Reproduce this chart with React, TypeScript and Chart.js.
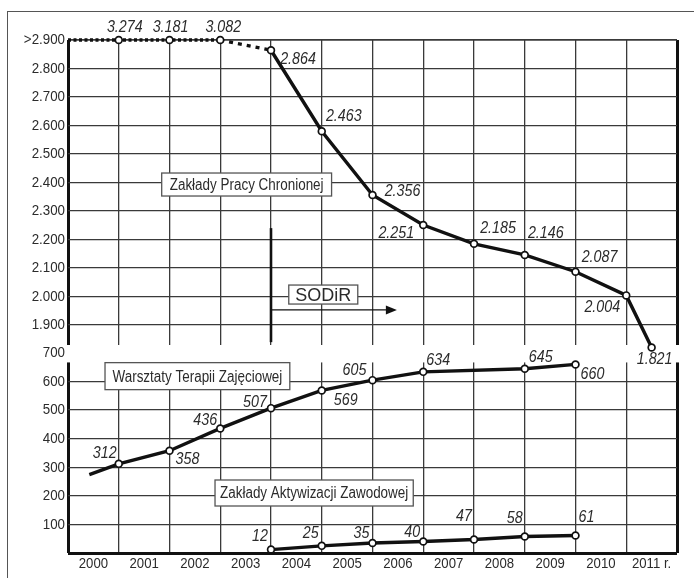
import React, { useEffect, useRef } from 'react';
import { Chart, registerables } from 'chart.js';

Chart.register(...registerables);

const SANS = "'Liberation Sans', Arial, sans-serif";
const INK = '#111';
const TEXT = '#2b2b2b';
const GRID = '#3a3a3a';
const CONDENSE = 0.84; // horizontal squeeze that imitates the narrow face of the original

// ---- categories / ticks ----
const yearLabels = ['2000', '2001', '2002', '2003', '2004', '2005', '2006', '2007', '2008', '2009', '2010', '2011 r.'];
const topTickValues = [1.9, 2.0, 2.1, 2.2, 2.3, 2.4, 2.5, 2.6, 2.7, 2.8, 2.9];
const topTickLabels = ['1.900', '2.000', '2.100', '2.200', '2.300', '2.400', '2.500', '2.600', '2.700', '2.800', '>2.900'];
const bottomTickValues = [0, 100, 200, 300, 400, 500, 600, 700];
const bottomTickLabels = ['', '100', '200', '300', '400', '500', '600', '700'];

// ---- Zakłady Pracy Chronionej (upper panel, thousands) ----
const zpchX = [0, 1, 2, 3, 4, 5, 6, 7, 8, 9, 10, 11, 11.5];
const zpchValues = [2.9, 3.274, 3.181, 3.082, 2.864, 2.58, 2.356, 2.251, 2.185, 2.146, 2.087, 2.004, 1.821];
const zpchLabels = ['', '3.274', '3.181', '3.082', '2.864', '2.463', '2.356', '2.251', '2.185', '2.146', '2.087', '2.004', '1.821'];
const zpchLabelOffsets = [[0, 0], [6, -13], [1, -13], [3, -13], [27, 9], [22, -15], [30, -4], [-27, 8], [24, -16], [21, -22], [24, -14], [-24, 12], [3, 12]];

// ---- Warsztaty Terapii Zajęciowej (lower panel) ----
const wtzX = [0.42, 1, 2, 3, 4, 5, 6, 7, 9, 10];
const wtzValues = [274, 312, 358, 436, 507, 569, 605, 634, 645, 660];
const wtzLabels = ['', '312', '358', '436', '507', '569', '605', '634', '645', '660'];
const wtzLabelOffsets = [[0, 0], [-14, -11], [18, 9], [-15, -8], [-16, -6], [24, 10], [-18, -10], [15, -12], [16, -11], [17, 10]];

// ---- Zakłady Aktywizacji Zawodowej (lower panel) ----
const zazX = [4, 5, 6, 7, 8, 9, 10];
const zazValues = [12, 25, 35, 40, 47, 58, 61];
const zazLabels = ['12', '25', '35', '40', '47', '58', '61'];
const zazLabelOffsets = [[-11, -13], [-11, -13], [-11, -10], [-11, -9], [-10, -23], [-10, -18], [11, -18]];

// ---- scale ranges (upper panel, spacer, lower panel stacked on the left) ----
const TOP_CAP = 2.9;
const TOP_MIN = 1.83;
const BOTTOM_MAX = 700;
const GAP_BOTTOM_VALUE = 667; // lower panel's grid starts here
const STACK_WEIGHTS = { top: 305, gap: 8, bottom: 200 };

// ---- annotations (data coordinates) ----
const annotationBoxes = [
  { text: 'Zakłady Pracy Chronionej', x: 3.52, y: 2.393, axis: 'yTop', size: 16, squeeze: CONDENSE, padX: 8, padY: 3.5 },
  { text: 'Warsztaty Terapii Zajęciowej', x: 2.55, y: 619, axis: 'yBot', size: 16, squeeze: CONDENSE, padX: 7.5, padY: 5.5 },
  { text: 'Zakłady Aktywizacji Zawodowej', x: 4.85, y: 210, axis: 'yBot', size: 16, squeeze: CONDENSE, padX: 5, padY: 5 },
  { text: 'SODiR', x: 5.03, y: 2.007, axis: 'yTop', size: 18, squeeze: 1, padX: 6.5, padY: 0.5 },
];
const sodirLine = { x: 4, yFrom: 2.24, yTo: 1.84 };
const sodirArrow = { xFrom: 4, xTo: 6.48, y: 1.953 };

const labelSets = [
  { labels: zpchLabels, offsets: zpchLabelOffsets },
  { labels: wtzLabels, offsets: wtzLabelOffsets },
  { labels: zazLabels, offsets: zazLabelOffsets },
];

function squeezedText(ctx: CanvasRenderingContext2D, text: string, cx: number, cy: number, sx: number) {
  ctx.save();
  ctx.translate(cx, cy);
  ctx.scale(sx, 1);
  ctx.fillText(text, 0, 0);
  ctx.restore();
}

// draw a scale's own tick labels with a horizontal squeeze, keeping their anchors
function squeezeScaleLabels(s: any, sx: number) {
  if (s.__squeezed) return;
  s.__squeezed = true;
  const orig = s.drawLabels;
  s.drawLabels = function (area: any) {
    const ctx = this.ctx;
    const items = this.getLabelItems(area);
    const saved = items.map((it: any) => it.options.translation);
    items.forEach((it: any) => {
      const [tx, ty] = it.options.translation;
      it.options.translation = [tx / sx, ty];
    });
    const origArea = this._computeLabelArea;
    this._computeLabelArea = () => undefined;
    ctx.save();
    ctx.scale(sx, 1);
    orig.call(this, area);
    ctx.restore();
    this._computeLabelArea = origArea;
    items.forEach((it: any, i: number) => {
      it.options.translation = saved[i];
    });
  };
}

const panelPlugin = {
  id: 'panels',
  beforeDatasetsDraw(chart: any) {
    const { ctx, chartArea, scales } = chart;
    const x = scales.x;
    const yTop = scales.yTop;
    const yBot = scales.yBot;
    ctx.save();
    // gap between the panels
    const g0 = yTop.getPixelForValue(yTop.min);
    const g1 = yBot.getPixelForValue(GAP_BOTTOM_VALUE);
    ctx.fillStyle = '#fff';
    ctx.fillRect(chartArea.left - 2, g0, chartArea.right - chartArea.left + 4, g1 - g0);

    // SODiR vertical line and arrow
    ctx.strokeStyle = INK;
    ctx.lineWidth = 2.6;
    ctx.beginPath();
    ctx.moveTo(x.getPixelForValue(sodirLine.x), yTop.getPixelForValue(sodirLine.yFrom));
    ctx.lineTo(x.getPixelForValue(sodirLine.x), yTop.getPixelForValue(sodirLine.yTo));
    ctx.stroke();
    const ay = yTop.getPixelForValue(sodirArrow.y);
    const ax0 = x.getPixelForValue(sodirArrow.xFrom);
    const ax1 = x.getPixelForValue(sodirArrow.xTo);
    ctx.lineWidth = 1.3;
    ctx.beginPath();
    ctx.moveTo(ax0, ay);
    ctx.lineTo(ax1 - 8, ay);
    ctx.stroke();
    ctx.fillStyle = INK;
    ctx.beginPath();
    ctx.moveTo(ax1, ay);
    ctx.lineTo(ax1 - 11, ay - 4.5);
    ctx.lineTo(ax1 - 11, ay + 4.5);
    ctx.closePath();
    ctx.fill();

    // label boxes
    annotationBoxes.forEach((b) => {
      ctx.font = `${b.size}px ${SANS}`;
      const w = ctx.measureText(b.text).width * b.squeeze + 2 * b.padX;
      const h = b.size + 2 * b.padY;
      const cx = x.getPixelForValue(b.x);
      const cy = scales[b.axis].getPixelForValue(b.y);
      ctx.fillStyle = '#fff';
      ctx.fillRect(cx - w / 2, cy - h / 2, w, h);
      ctx.strokeStyle = '#555';
      ctx.lineWidth = 1.3;
      ctx.strokeRect(cx - w / 2, cy - h / 2, w, h);
      ctx.fillStyle = TEXT;
      ctx.textAlign = 'center';
      ctx.textBaseline = 'middle';
      squeezedText(ctx, b.text, cx, cy + 1, b.squeeze);
    });
    ctx.restore();
  },
  afterDatasetsDraw(chart: any) {
    const { ctx } = chart;
    ctx.save();
    ctx.font = `italic 17px ${SANS}`;
    ctx.fillStyle = TEXT;
    ctx.textAlign = 'center';
    ctx.textBaseline = 'middle';
    labelSets.forEach((set, i) => {
      const meta = chart.getDatasetMeta(i);
      meta.data.forEach((pt: any, j: number) => {
        const t = set.labels[j];
        if (!t) return;
        squeezedText(ctx, t, pt.x + set.offsets[j][0], pt.y + set.offsets[j][1], CONDENSE);
      });
    });
    ctx.restore();
  },
};

const pointStyle = {
  pointBackgroundColor: '#fff',
  pointBorderColor: INK,
  pointBorderWidth: 1.7,
  borderColor: INK,
  borderWidth: 3.4,
  tension: 0,
  fill: false,
  clip: false,
};

const tickFont = { family: SANS, size: 15.5 };

export default function App() {
  const ref = useRef<HTMLCanvasElement>(null);

  useEffect(() => {
    if (!ref.current) return;
    const xTicks: number[] = [];
    for (let i = 0; i <= yearLabels.length * 2; i++) xTicks.push(i / 2);

    const chart = new Chart(ref.current, {
      type: 'line',
      data: {
        datasets: [
          {
            ...pointStyle,
            data: zpchX.map((xv, i) => ({ x: xv, y: Math.min(zpchValues[i], TOP_CAP) })),
            yAxisID: 'yTop',
            pointRadius: (c: any) => (c.dataIndex === 0 ? 0 : 3.4),
            segment: {
              borderDash: (c: any) => (c.p1DataIndex <= 3 ? [3, 2.5] : c.p1DataIndex === 4 ? [4, 5] : undefined),
              borderWidth: (c: any) => (c.p1DataIndex <= 4 ? 3.3 : 3.4),
            },
          } as any,
          {
            ...pointStyle,
            data: wtzX.map((xv, i) => ({ x: xv, y: wtzValues[i] })),
            yAxisID: 'yBot',
            pointRadius: (c: any) => (c.dataIndex === 0 ? 0 : 3.4),
          } as any,
          {
            ...pointStyle,
            data: zazX.map((xv, i) => ({ x: xv, y: zazValues[i] })),
            yAxisID: 'yBot',
            pointRadius: 3.4,
          } as any,
        ],
      },
      options: {
        responsive: false,
        maintainAspectRatio: false,
        animation: false,
        events: [],
        devicePixelRatio: 1,
        layout: { padding: { top: 40, right: 17, bottom: 0, left: 0 } },
        plugins: { legend: { display: false }, tooltip: { enabled: false } },
        scales: {
          x: {
            type: 'linear',
            position: 'bottom',
            min: 0,
            max: yearLabels.length,
            afterBuildTicks: (s: any) => {
              s.ticks = xTicks.map((v) => ({ value: v }));
            },
            afterFit: (s: any) => {
              s.height = 25;
              squeezeScaleLabels(s, 0.85);
            },
            ticks: {
              autoSkip: false,
              maxRotation: 0,
              padding: 1,
              color: TEXT,
              font: { family: SANS, size: 15.5 },
              callback: (v: any) => {
                const n = Number(v);
                return Number.isInteger(n) ? '' : yearLabels[Math.floor(n)];
              },
            },
            grid: {
              drawTicks: false,
              color: (c: any) => (c.tick && Number.isInteger(c.tick.value) ? (c.tick.value === 0 || c.tick.value === yearLabels.length ? INK : GRID) : 'rgba(0,0,0,0)'),
              lineWidth: (c: any) => (c.tick && (c.tick.value === 0 || c.tick.value === yearLabels.length) ? 3 : 1.3),
            },
            border: { display: false },
          },
          yTop: {
            type: 'linear',
            position: 'left',
            stack: 'panels',
            stackWeight: STACK_WEIGHTS.top,
            weight: 3,
            min: TOP_MIN,
            max: TOP_CAP,
            afterBuildTicks: (s: any) => {
              s.ticks = topTickValues.map((v) => ({ value: v }));
            },
            afterFit: (s: any) => {
              s.width = 68;
              squeezeScaleLabels(s, 0.86);
            },
            ticks: {
              autoSkip: false,
              padding: 3,
              color: TEXT,
              font: tickFont,
              callback: (v: any, i: number) => topTickLabels[i],
            },
            grid: {
              drawTicks: false,
              color: GRID,
              lineWidth: (c: any) => (c.tick && c.tick.value === TOP_CAP ? 1.7 : 1.3),
            },
            border: { display: false },
          },
          yGap: {
            type: 'linear',
            position: 'left',
            stack: 'panels',
            stackWeight: STACK_WEIGHTS.gap,
            weight: 2,
            min: 0,
            max: 1,
            afterFit: (s: any) => {
              s.width = 0;
            },
            ticks: { display: false },
            grid: { display: false },
            border: { display: false },
          },
          yBot: {
            type: 'linear',
            position: 'left',
            stack: 'panels',
            stackWeight: STACK_WEIGHTS.bottom,
            weight: 1,
            min: 0,
            max: BOTTOM_MAX,
            afterBuildTicks: (s: any) => {
              s.ticks = bottomTickValues.map((v) => ({ value: v }));
            },
            afterFit: (s: any) => {
              s.width = 68;
              squeezeScaleLabels(s, 0.86);
            },
            ticks: {
              autoSkip: false,
              padding: 3,
              color: TEXT,
              font: tickFont,
              callback: (v: any, i: number) => bottomTickLabels[i],
            },
            grid: {
              drawTicks: false,
              color: (c: any) => (c.tick && c.tick.value === BOTTOM_MAX ? 'rgba(0,0,0,0)' : c.tick && c.tick.value === 0 ? INK : GRID),
              lineWidth: (c: any) => (c.tick && c.tick.value === 0 ? 3 : 1.3),
            },
            border: { display: false },
          },
        } as any,
      },
      plugins: [panelPlugin],
    });
    return () => chart.destroy();
  }, []);

  return (
    <div style={{ position: 'absolute', left: 0, top: 0, width: 694, height: 578, background: '#fff', overflow: 'hidden' }}>
      <div
        style={{
          position: 'absolute',
          left: 7,
          top: 11,
          width: 687,
          height: 567,
          borderLeft: '1.5px solid #555',
          borderTop: '1.5px solid #555',
          boxSizing: 'border-box',
        }}
      />
      <canvas ref={ref} width={694} height={578} style={{ position: 'absolute', left: 0, top: 0, width: 694, height: 578 }} />
    </div>
  );
}
